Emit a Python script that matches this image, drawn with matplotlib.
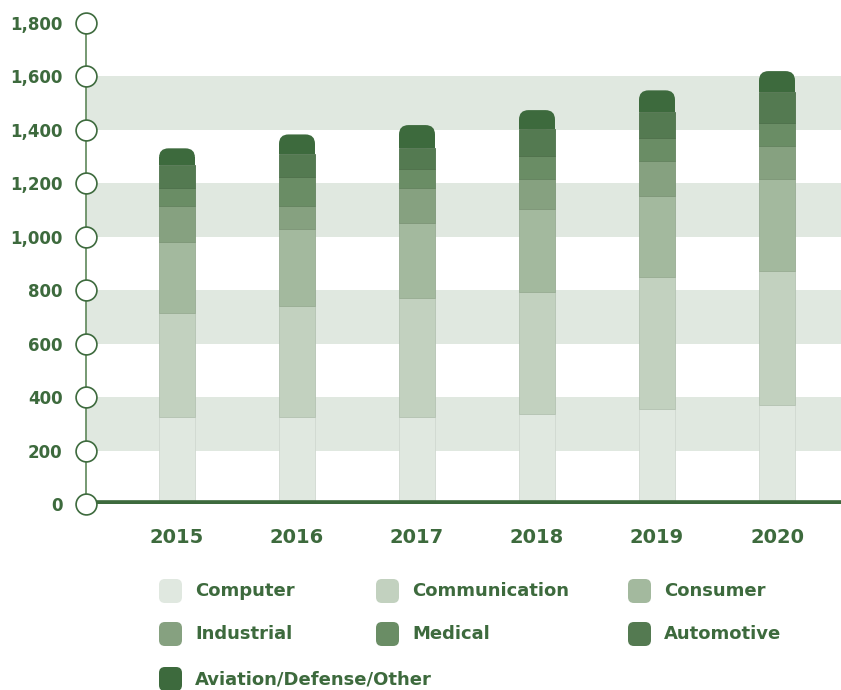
import numpy as np
import matplotlib.pyplot as plt
from matplotlib.patches import FancyBboxPatch

years = ['2015', '2016', '2017', '2018', '2019', '2020']
segments = ['Computer', 'Communication', 'Consumer', 'Industrial',
            'Medical', 'Automotive', 'Aviation/Defense/Other']
computer = [326, 327, 326, 338, 355, 370]
communication = [389, 415, 445, 455, 494, 502]
consumer = [266, 287, 281, 311, 304, 344]
industrial = [134, 86, 131, 112, 131, 124]
medical = [68, 109, 71, 86, 86, 86]
automotive = [86, 86, 78, 101, 97, 116]
aviation = [62, 73, 86, 71, 81, 78]
yticks = [0, 200, 400, 600, 800, 1000, 1200, 1400, 1600, 1800]

colors = ['#e0e8e0', '#c2d1bf', '#a3b99e', '#86a180', '#6a8d65', '#547a51', '#3d6a3d']
dark = '#3d6a3d'
band = '#e0e8e0'

W, H = 841, 690
fig = plt.figure(figsize=(W / 100, H / 100), dpi=100)
ax = fig.add_axes([86 / W, (H - 504) / H, (W - 86) / W, 481 / H])

x = np.arange(len(years))
ax.set_xlim(-91 / 120, (W - 177) / 120)
ax.set_ylim(0, 1800)

# alternating bands
for lo in [200, 600, 1000, 1400]:
    ax.axhspan(lo, lo + 200, color=band, lw=0, zorder=0)

data = [computer, communication, consumer, industrial, medical, automotive, aviation]
bw = 0.3
bottom = np.zeros(len(years))
for i, (vals, c) in enumerate(zip(data, colors)):
    vals = np.array(vals, dtype=float)
    edge = tuple(v * 0.93 for v in plt.matplotlib.colors.to_rgb(c))
    if i < len(data) - 1:
        ax.bar(x, vals, bw, bottom=bottom, color=c, edgecolor=edge, lw=0.6, zorder=2)
    else:
        # rounded top segment
        rs = 9.5 / 120
        asp = (9.5 / 0.26722) / rs
        for xi, b, v in zip(x, bottom, vals):
            p = FancyBboxPatch((xi - bw / 2, b), bw, v,
                               boxstyle=f'round,pad=0,rounding_size={rs}',
                               mutation_aspect=asp, fc=c, ec='none', zorder=2)
            ax.add_patch(p)
            ax.bar(xi, v / 2, bw, bottom=b, color=c, lw=0, zorder=2)
    bottom += vals

# baseline and axis circles
ax.axhline(0, xmin=0.01, color=dark, lw=5.5, zorder=3, solid_capstyle='butt')
for s in ['top', 'right', 'bottom']:
    ax.spines[s].set_visible(False)
ax.spines['left'].set_color('#5f875a')
ax.spines['left'].set_linewidth(1.2)
ax.plot([ax.get_xlim()[0]] * len(yticks), yticks, 'o', ms=15, mfc='white',
        mec=dark, mew=1.2, clip_on=False, zorder=5)

ax.set_yticks(yticks)
ax.set_yticklabels([f'{v:,}' for v in yticks])
ax.tick_params(axis='y', length=0, pad=17, labelsize=12, labelcolor=dark)
for t in ax.get_yticklabels():
    t.set_fontweight('bold')
ax.set_xticks(x)
ax.set_xticklabels(years)
ax.tick_params(axis='x', length=0, pad=17, labelsize=14, labelcolor=dark)
for t in ax.get_xticklabels():
    t.set_fontweight('bold')

# legend
mx = [159, 376, 628]
rows = [591, 634, 679]
for i, (name, c) in enumerate(zip(segments, colors)):
    r, col = divmod(i, 3)
    x0 = mx[col]
    y0 = rows[r]
    patch = FancyBboxPatch(((x0) / W, (H - y0 - 12) / H), 23 / W, 24 / H,
                           boxstyle='round,pad=0,rounding_size=0.007',
                           mutation_aspect=W / H, transform=fig.transFigure,
                           fc=c, ec='none')
    fig.patches.append(patch)
    fig.text((x0 + 36) / W, (H - y0) / H, name, color=dark, fontsize=13,
             fontweight='bold', va='center', ha='left')

fig.savefig('out.png', dpi=100)
